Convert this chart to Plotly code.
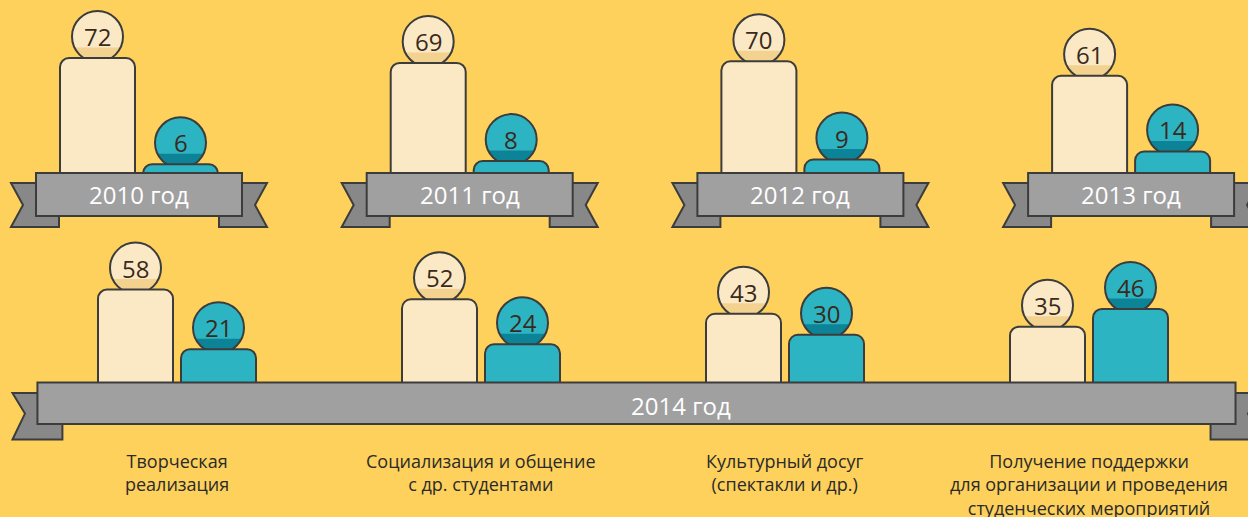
import numpy as np
import plotly.graph_objects as go

# ---------------- data ----------------
years = ["2010 год", "2011 год", "2012 год", "2013 год"]
years_cream = [72, 69, 70, 61]
years_teal = [6, 8, 9, 14]

goals = [
    "Творческая<br>реализация",
    "Социализация и общение<br>с др. студентами",
    "Культурный досуг<br>(спектакли и др.)",
    "Получение поддержки<br>для организации и проведения<br>студенческих мероприятий",
]
goals_cream = [58, 52, 43, 35]
goals_teal = [21, 24, 30, 46]
goals_year = "2014 год"

# ---------------- style ----------------
W, H = 1248, 517
FONT = "Open Sans"
BG = "#FDD15B"
CREAM, CREAM_D = "#FBE9C6", "#F3D28F"
TEAL, TEAL_D = "#2CB4C3", "#0C8397"
EDGE = "#3C3C3C"
RIB, RIB_D = "#A0A0A0", "#888888"
NUM_COLOR = "#3A2A1C"
LABEL_COLOR = "#2A2A2A"

PX_PER_UNIT = 1.61
BAR_PX, BAR_GAP_PX = 75, 8
HEAD_R, HEAD_DY, BAND_DY = 25.5, 21.5, 10.5

TOP_C0, TOP_STRIDE, TOP_BASE = 139, 330.7, 174
BOT_C0, BOT_STRIDE, BOT_BASE = 177, 304, 383
SPLIT = 232

fig = go.Figure()
shapes = []
annotations = []


def px_path(points):
    return "M " + " L ".join(f"{x:.2f},{y:.2f}" for x, y in points) + " Z"


def add_row(cream, teal, xa, ya, stride):
    idx = np.arange(len(cream))
    w = BAR_PX / stride
    specs = [
        (cream, CREAM, CREAM_D, -(BAR_GAP_PX / 2 + BAR_PX)),
        (teal, TEAL, TEAL_D, BAR_GAP_PX / 2),
    ]
    for vals, col, dcol, off_px in specs:
        fig.add_bar(
            x=idx, y=vals, width=w, offset=off_px / stride,
            marker=dict(color=col, line=dict(color=EDGE, width=2), cornerradius=9),
            xaxis=xa, yaxis=ya, showlegend=False, hoverinfo="skip",
        )
        dx = off_px + BAR_PX / 2
        t0 = np.arcsin((BAND_DY - HEAD_DY) / HEAD_R)
        ts = np.linspace(t0, -np.pi - t0, 40)
        band = [(dx + HEAD_R * np.cos(t), HEAD_DY + HEAD_R * np.sin(t)) for t in ts]
        for i, v in zip(idx, vals):
            common = dict(xref=xa, yref=ya, xsizemode="pixel", ysizemode="pixel",
                          xanchor=float(i), yanchor=v, layer="below")
            shapes.append(dict(type="circle", x0=dx - HEAD_R, x1=dx + HEAD_R,
                               y0=HEAD_DY - HEAD_R, y1=HEAD_DY + HEAD_R,
                               fillcolor=col, line=dict(width=0), **common))
            shapes.append(dict(type="path", path=px_path(band), fillcolor=dcol,
                               line=dict(width=0), **common))
            shapes.append(dict(type="circle", x0=dx - HEAD_R, x1=dx + HEAD_R,
                               y0=HEAD_DY - HEAD_R, y1=HEAD_DY + HEAD_R,
                               fillcolor="rgba(0,0,0,0)", line=dict(color=EDGE, width=2), **common))
            annotations.append(dict(x=float(i), y=v, xref=xa, yref=ya, xshift=dx, yshift=HEAD_DY,
                                    text=str(v), showarrow=False, yanchor="middle",
                                    font=dict(family=FONT, size=24, color=NUM_COLOR)))


add_row(years_cream, years_teal, "x", "y", TOP_STRIDE)
add_row(goals_cream, goals_teal, "x2", "y2", BOT_STRIDE)

# top ribbons anchored at each year's baseline
left_tail = [(-128, -9), (-80, -9), (-80, -53), (-128, -53), (-116, -31)]
right_tail = [(128, -9), (80, -9), (80, -53), (128, -53), (116, -31)]
rect = [(-103, 1), (103, 1), (103, -42), (-103, -42)]
for i, label in enumerate(years):
    common = dict(xref="x", yref="y", xsizemode="pixel", ysizemode="pixel",
                  xanchor=i, yanchor=0, layer="above", line=dict(color=EDGE, width=2))
    shapes.append(dict(type="path", path=px_path(left_tail), fillcolor=RIB_D, **common))
    shapes.append(dict(type="path", path=px_path(right_tail), fillcolor=RIB_D, **common))
    shapes.append(dict(type="path", path=px_path(rect), fillcolor=RIB, **common))
    annotations.append(dict(x=i, y=0, xref="x", yref="y", yshift=-20.5, text=label,
                            showarrow=False, yanchor="middle",
                            font=dict(family=FONT, size=24, color="white")))


# bottom long ribbon (paper coordinates from pixel layout)
def paper(points):
    return [(x / W, 1 - y / H) for x, y in points]


common = dict(xref="paper", yref="paper", layer="above", line=dict(color=EDGE, width=2))
shapes.append(dict(type="path", fillcolor=RIB_D,
                   path=px_path(paper([(14, 393), (62, 393), (62, 437), (14, 437), (26, 415)])), **common))
shapes.append(dict(type="path", fillcolor=RIB_D,
                   path=px_path(paper([(1260, 393), (1210, 393), (1210, 437), (1260, 437), (1247, 415)])), **common))
shapes.append(dict(type="path", fillcolor=RIB,
                   path=px_path(paper([(39, 383), (1234, 383), (1234, 426), (39, 426)])), **common))
annotations.append(dict(x=681 / W, y=1 - 405 / H, xref="paper", yref="paper", text=goals_year,
                        showarrow=False, yanchor="middle",
                        font=dict(family=FONT, size=24, color="white")))

for i, g in enumerate(goals):
    annotations.append(dict(x=i, y=1 - 447 / H, xref="x2", yref="paper", text=g,
                            showarrow=False, yanchor="top", align="center",
                            font=dict(family=FONT, size=18, color=LABEL_COLOR)))

fig.update_layout(
    width=W, height=H, margin=dict(l=0, r=0, t=0, b=0),
    paper_bgcolor=BG, plot_bgcolor=BG, barmode="overlay", showlegend=False,
    shapes=shapes, annotations=annotations,
    xaxis=dict(domain=[0, 1], range=[-TOP_C0 / TOP_STRIDE, (W - TOP_C0) / TOP_STRIDE],
               visible=False, anchor="y"),
    yaxis=dict(domain=[1 - SPLIT / H, 1],
               range=[-(SPLIT - TOP_BASE) / PX_PER_UNIT, TOP_BASE / PX_PER_UNIT],
               visible=False, anchor="x"),
    xaxis2=dict(domain=[0, 1], range=[-BOT_C0 / BOT_STRIDE, (W - BOT_C0) / BOT_STRIDE],
                visible=False, anchor="y2"),
    yaxis2=dict(domain=[0, 1 - SPLIT / H],
                range=[-(H - BOT_BASE) / PX_PER_UNIT, (BOT_BASE - SPLIT) / PX_PER_UNIT],
                visible=False, anchor="x2"),
)

fig.write_html("out.html")
